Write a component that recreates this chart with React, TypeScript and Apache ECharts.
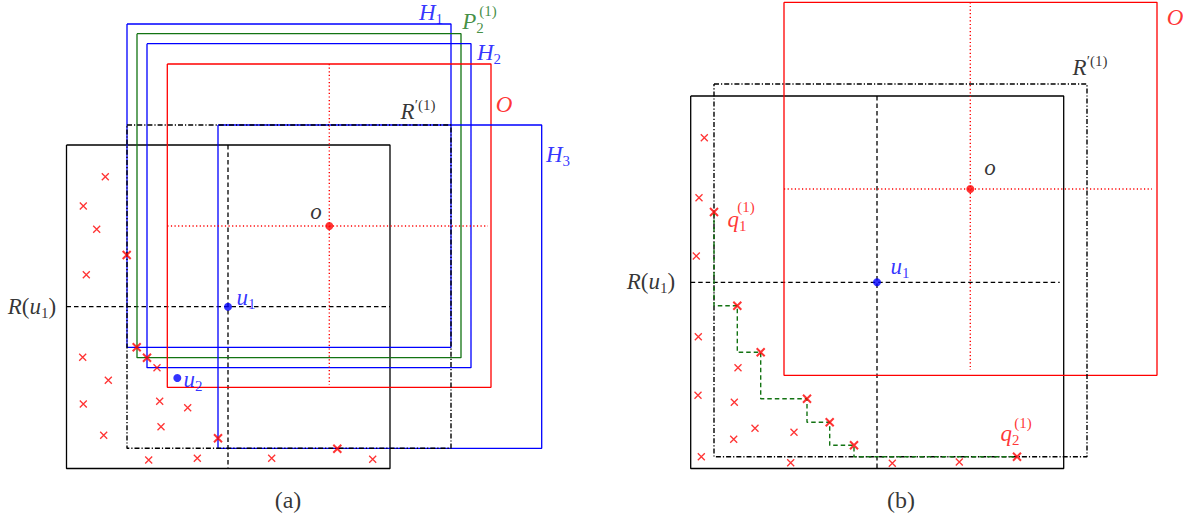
import React, { useEffect, useRef } from "react";
import * as echarts from "echarts";

const W = 1192;
const H = 521;

const RED = "#ff0000";
const BLUE = "#0000ff";
const GREEN = "#137313";
const BLACK = "#000000";
const FONT = "'Liberation Serif', 'DejaVu Serif', serif";

// Rectangles [x1, y1, x2, y2] (diagram coordinates, y grows downwards)
// Panel (a)
const aRu1 = [66.5, 145, 390, 468.5];
const aH1 = [127, 24, 451, 347.3];
const aP2 = [137, 33.7, 461, 357.7];
const aH2 = [147, 43.7, 471, 367.7];
const aO = [167.3, 64, 491, 387.3];
const aRprime = [127, 125, 451, 448.3];
const aH3 = [218, 125, 541.7, 448.3];
// Panel (b)
const bRu1 = [690.7, 96, 1063.7, 468.5];
const bRprime = [714, 84, 1087, 456.7];
const bO = [784, 2.3, 1157, 375.3];

// Points
const aU1 = [228, 306.7];
const aU2 = [177.3, 378];
const aOpt = [329.3, 226];
const bU1 = [877, 282.3];
const bOpt = [970.3, 189];

// Dotted red cross through o: [xLeft, xRight, yTop, yBottom]
const aOCross = [167.3, 488, 64, 385];
const bOCross = [784, 1152, 2.3, 370];

// Red crosses (normal)
const aCrosses = [
  [105.3, 176.7], [83.3, 206], [96.7, 229.3], [86.3, 274.7],
  [82.7, 357.3], [108.3, 380.3], [157, 367.7], [83.3, 404],
  [159.7, 401.3], [187.7, 407.7], [161, 426.7], [103.7, 435.3],
  [148.7, 460], [197.3, 458.3], [271.7, 458.3], [372.7, 459.3],
];
const aCrossesBold = [
  [126.7, 255], [136.7, 347.3], [147, 357.7], [218, 438.3], [337.3, 448.7],
];
const bCrosses = [
  [704.3, 137.7], [699, 197.7], [696.3, 256], [698.3, 336.7],
  [738, 367.7], [698, 395.3], [734.3, 402.3], [755, 428.3],
  [794, 432.3], [733.7, 439.3], [701.3, 456.7], [790.7, 462.7],
  [892.3, 463.3], [959.3, 462],
];
const bCrossesBold = [
  [714, 212], [737.3, 305.7], [760.7, 352.3], [807, 398.7],
  [829.7, 422.3], [854, 445.3], [1017, 456.7],
];

// Green staircase (skyline) from q1 to q2
const bStair = [
  [714, 212], [714, 305.7], [737.3, 305.7], [737.3, 352.3], [760.7, 352.3],
  [760.7, 398.7], [807, 398.7], [807, 422.3], [829.7, 422.3], [829.7, 445.3],
  [854, 445.3], [854, 456.7], [1017, 456.7],
];

// Text annotations: [rich text, x, y, color]
const labels: [string, number, number, string][] = [
  ["{i|R}{n|(}{i|u}{sub|1}{n|)}", 32, 306, BLACK],
  ["{i|u}{sub|1}", 246, 297, BLUE],
  ["{i|u}{sub|2}", 193, 379, BLUE],
  ["{i|H}{sub|1}", 431, 12, BLUE],
  ["{i|P}{sub|2}", 473, 21, GREEN],
  ["{sm|(1)}", 488, 11, GREEN],
  ["{i|H}{sub|2}", 489, 52, BLUE],
  ["{i|O}", 504, 104, RED],
  ["{i|R}{sup|′(1)}", 418, 111, BLACK],
  ["{i|H}{sub|3}", 558, 154, BLUE],
  ["{i|o}", 316, 211, BLACK],
  ["{c|(a)}", 288, 500, BLACK],
  ["{i|R}{n|(}{i|u}{sub|1}{n|)}", 651, 281, BLACK],
  ["{i|u}{sub|1}", 900, 266, BLUE],
  ["{i|O}", 1175, 17, RED],
  ["{i|R}{sup|′(1)}", 1090, 67, BLACK],
  ["{i|o}", 990, 167, BLACK],
  ["{i|q}{sub|1}", 737, 219, RED],
  ["{sm|(1)}", 746, 207, RED],
  ["{i|q}{sub|2}", 1010, 433, RED],
  ["{sm|(1)}", 1023, 423, RED],
  ["{c|(b)}", 901, 500, BLACK],
];

function rectPath(r: number[]) {
  const [x1, y1, x2, y2] = r;
  return [[x1, y1], [x2, y1], [x2, y2], [x1, y2], [x1, y1]];
}

function lineSeries(data: number[][], color: string, type: any, width = 1.3, z = 2) {
  return {
    type: "line",
    data,
    showSymbol: false,
    symbol: "none",
    silent: true,
    z,
    lineStyle: { color, width, type },
  };
}

function crossSeries(data: number[][], width: number, size: number) {
  return {
    type: "scatter",
    data,
    symbol: "path://M0 0L10 10M10 0L0 10",
    symbolSize: size,
    silent: true,
    z: 5,
    itemStyle: { color: "rgba(0,0,0,0)", borderColor: RED, borderWidth: width },
  };
}

const DASH = [4.5, 3];
const DASHDOT = [5, 2, 1.2, 2];
const DOT = [1.2, 2.4];

export default function App() {
  const ref = useRef<HTMLDivElement>(null);
  useEffect(() => {
    if (!ref.current) return;
    const chart = echarts.init(ref.current, undefined, { renderer: "svg" });
    const [ax, ay] = aU1;
    const [bx, by] = bU1;
    const series: any[] = [
      // panel (a)
      lineSeries(rectPath(aRu1), BLACK, "solid"),
      lineSeries([[ax, aRu1[1]], [ax, aRu1[3]]], BLACK, DASH),
      lineSeries([[aRu1[0], ay], [aRu1[2], ay]], BLACK, DASH),
      lineSeries(rectPath(aH1), BLUE, "solid"),
      lineSeries(rectPath(aP2), GREEN, "solid"),
      lineSeries(rectPath(aH2), BLUE, "solid"),
      lineSeries(rectPath(aO), RED, "solid"),
      lineSeries(rectPath(aH3), BLUE, "solid"),
      lineSeries(rectPath(aRprime), BLACK, DASHDOT, 1.4, 3),
      lineSeries([[aOCross[0], aOpt[1]], [aOCross[1], aOpt[1]]], RED, DOT, 1.4),
      lineSeries([[aOpt[0], aOCross[2]], [aOpt[0], aOCross[3]]], RED, DOT, 1.4),
      // panel (b)
      lineSeries(rectPath(bRu1), BLACK, "solid"),
      lineSeries([[bx, bRu1[1]], [bx, bRu1[3]]], BLACK, DASH),
      lineSeries([[bRu1[0], by], [bRu1[2] - 4, by]], BLACK, DASH),
      lineSeries(rectPath(bO), RED, "solid"),
      lineSeries(rectPath(bRprime), BLACK, DASHDOT, 1.4, 3),
      lineSeries([[bOCross[0], bOpt[1]], [bOCross[1], bOpt[1]]], RED, DOT, 1.4),
      lineSeries([[bOpt[0], bOCross[2]], [bOpt[0], bOCross[3]]], RED, DOT, 1.4),
      lineSeries(bStair, GREEN, DASH, 1.4, 4),
      // crosses
      crossSeries(aCrosses, 1.3, 7),
      crossSeries(aCrossesBold, 2, 8),
      crossSeries(bCrosses, 1.3, 7),
      crossSeries(bCrossesBold, 2, 8),
      // points
      {
        type: "scatter",
        data: [aOpt, bOpt],
        symbol: "circle",
        symbolSize: 8,
        silent: true,
        z: 6,
        itemStyle: { color: RED },
      },
      {
        type: "scatter",
        data: [aU1, aU2, bU1],
        symbol: "circle",
        symbolSize: 8,
        silent: true,
        z: 6,
        itemStyle: { color: BLUE },
      },
      // labels
      {
        type: "scatter",
        symbolSize: 0,
        silent: true,
        z: 7,
        data: labels.map(([t, x, y, c]) => ({
          value: [x, y],
          label: { color: c, formatter: t },
        })),
        label: {
          show: true,
          position: "inside",
          align: "center",
          verticalAlign: "middle",
          fontFamily: FONT,
          rich: {
            i: { fontFamily: FONT, fontStyle: "italic", fontSize: 23, lineHeight: 28, verticalAlign: "middle" },
            n: { fontFamily: FONT, fontSize: 23, lineHeight: 28, verticalAlign: "middle" },
            c: { fontFamily: FONT, fontSize: 24, lineHeight: 28, verticalAlign: "middle" },
            sub: { fontFamily: FONT, fontSize: 15, lineHeight: 15, verticalAlign: "bottom" },
            sup: { fontFamily: FONT, fontSize: 15, lineHeight: 15, verticalAlign: "top" },
            sm: { fontFamily: FONT, fontSize: 15, lineHeight: 17, verticalAlign: "middle" },
          },
        },
      },
    ];
    chart.setOption({
      animation: false,
      backgroundColor: "#ffffff",
      grid: { left: 0, right: 0, top: 0, bottom: 0 },
      xAxis: { type: "value", min: 0, max: W, show: false },
      yAxis: { type: "value", min: 0, max: H, inverse: true, show: false },
      series,
    });
    return () => chart.dispose();
  }, []);
  return (
    <div
      ref={ref}
      style={{ position: "absolute", left: 0, top: 0, width: W, height: H, background: "#fff" }}
    />
  );
}
